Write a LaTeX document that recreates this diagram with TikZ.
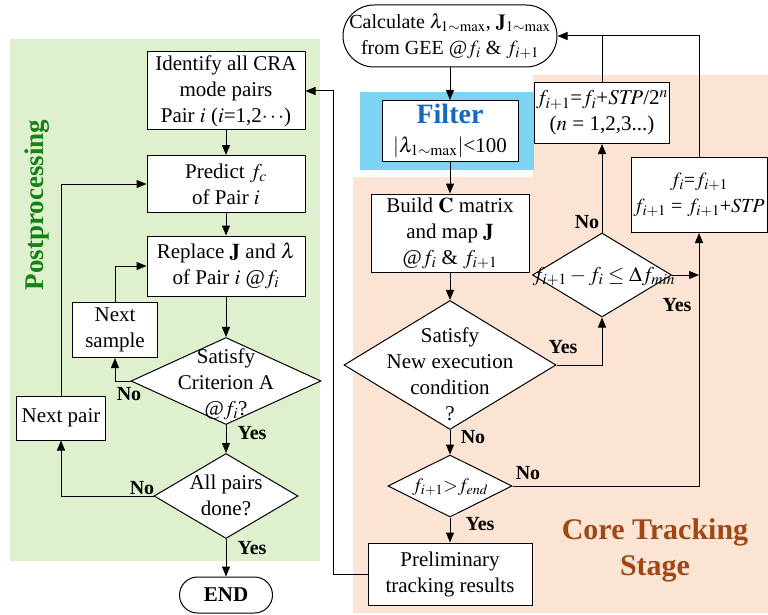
\documentclass[tikz,border=0pt]{standalone}
\usepackage{mathptmx}
\usepackage{fontspec}
\setmainfont{Liberation Serif}
\usetikzlibrary{shapes.geometric,arrows.meta}

\definecolor{postbg}{RGB}{223,240,207}
\definecolor{corebg}{RGB}{252,228,212}
\definecolor{filtbg}{RGB}{125,211,244}
\definecolor{posttxt}{RGB}{20,130,20}
\definecolor{coretxt}{RGB}{158,72,22}
\definecolor{filttxt}{RGB}{22,104,190}

% text of a diamond, kept out of the shape size
\newcommand{\dtxt}[2][0pt]{\makebox[0pt]{\smash{\raisebox{\dimexpr-0.3em-#1\relax}{\begin{tabular}{@{}c@{}}#2\end{tabular}}}}}

\begin{document}
\begin{tikzpicture}[x=1pt,y=-1pt,line width=1pt,>={Triangle[length=10pt,width=8pt]},
	box/.style={draw,fill=white,align=center,inner sep=2pt,font=\fontsize{21}{26}\selectfont},
	dia/.style={draw,fill=white,shape=diamond,inner sep=0pt,font=\fontsize{21}{26}\selectfont},
	term/.style={box,rounded corners=#1},
	lbl/.style={font=\bfseries\fontsize{20}{24}\selectfont,inner sep=0pt}]
	\useasboundingbox (0,0) rectangle (768,615);
	% backgrounds
	\fill[postbg] (10,39) rectangle (320,561);
	\fill[corebg] (353,177) -- (533,177) -- (533,75) -- (768,75) -- (768,613) -- (353,613) -- cycle;
	\fill[filtbg] (360,92) rectangle (534,170);
	\node[rotate=90,text=posttxt,font=\bfseries\fontsize{27}{30}\selectfont] (post) at (37,205) {Postprocessing};
	\node[align=center,text=coretxt,font=\bfseries\fontsize{30}{36}\selectfont] (core) at (655,550) {Core Tracking\\Stage};

	% core tracking stage
	\node[term=31pt,minimum width=214pt,minimum height=62pt,font=\fontsize{20}{26}\selectfont] (calc) at (450,36) {Calculate $\lambda_{1\sim\max}$, $\mathbf{J}_{1\sim\max}$\\from GEE @$f_i$ \& $f_{i+1}$};
	\node[box,minimum width=136pt,minimum height=61pt] (filt) at (450,131) {{\color{filttxt}\bfseries\fontsize{28}{30}\selectfont Filter}\\[3pt]$|\lambda_{1\sim\max}|$<100};
	\node[box,minimum width=158pt,minimum height=78pt] (build) at (450,233) {Build $\mathbf{C}$ matrix\\and map $\mathbf{J}$\\@$f_i$ \& $f_{i+1}$};
	\node[dia,minimum width=212pt,minimum height=129pt] (satn) at (450,365) {\dtxt[10pt]{Satisfy\\New execution\\condition\\?}};
	\node[dia,minimum width=124pt,minimum height=62pt,font=\fontsize{19}{22}\selectfont] (fend) at (450,486) {\dtxt{$f_{i+1}{>}f_{\mathit{end}}$}};
	\node[box,minimum width=164pt,minimum height=62pt] (prel) at (450,574) {Preliminary\\tracking results};
	\node[dia,minimum width=139pt,minimum height=84pt] (fdiff) at (602,275) {\dtxt{\hspace*{4pt}$f_{i+1}-f_i\leq\Delta f_{\mathit{min}}$}};
	\node[box,minimum width=123pt,minimum height=61pt] (stp) at (602,113) {$f_{i+1}$=$f_i$+$\mathit{STP}$/2$^n$\\($n$ = 1,2,3...)};
	\node[box,minimum width=136pt,minimum height=75pt,font=\fontsize{20}{26}\selectfont] (fupd) at (699,195) {$f_i$=$f_{i+1}$\\$f_{i+1}$ = $f_{i+1}$+$\mathit{STP}$};

	% postprocessing
	\node[box,minimum width=158pt,minimum height=78pt] (ident) at (226,91) {Identify all CRA\\mode pairs\\Pair $i$ ($i$=1,2$\cdots$)};
	\node[box,minimum width=158pt,minimum height=57pt] (pred) at (226,184) {Predict $f_c$\\of Pair $i$};
	\node[box,minimum width=158pt,minimum height=60pt] (repl) at (226,266) {Replace $\mathbf{J}$ and $\lambda$\\of Pair $i$ @$f_i$};
	\node[dia,minimum width=190pt,minimum height=87pt] (crit) at (226,381) {\dtxt[2pt]{Satisfy\\Criterion A\\@$f_i$?}};
	\node[box,minimum width=85pt,minimum height=55pt] (nsamp) at (115,330) {Next\\sample};
	\node[box,minimum width=89pt,minimum height=44pt] (npair) at (61,418) {Next pair};
	\node[dia,minimum width=144pt,minimum height=85pt] (allp) at (226,496) {\dtxt{All pairs\\done?}};
	\node[term=18pt,minimum width=93pt,minimum height=36pt,font=\bfseries\fontsize{21}{25}\selectfont] (end) at (226,595) {END};

	% connectors, right side
	\draw[->] (calc) -- (filt);
	\draw[->] (filt) -- (build);
	\draw[->] (build) -- (satn);
	\draw[->] (satn) -- (fend);
	\draw[->] (satn.east) -| (fdiff.south);
	\draw[->] (fdiff.north) -- (stp.south);
	\coordinate (top) at (stp.north |- calc.east);
	\draw[->] (stp.north) |- (calc.east);
	\draw (fupd.north) |- (top);
	\draw[->] (fdiff.east) -- (fdiff.east -| fupd.south);
	\draw[->] (fend.east) -| (fupd.south);
	\draw[->] (fend) -- (prel);
	\coordinate (back) at (333,91);
	\draw[->] (prel.west) -| (back) -- (ident.east);

	% connectors, left side
	\draw[->] (ident) -- (pred);
	\draw[->] (pred) -- (repl);
	\draw[->] (repl) -- (crit);
	\draw[->] (crit.west) -| (nsamp.south);
	\draw[->] (nsamp.north) |- (repl.west);
	\draw[->] (crit) -- (allp);
	\draw[->] (allp.west) -| (npair.south);
	\draw[->] (npair.north) |- (pred.west);
	\draw[->] (allp) -- (end);

	% yes / no
	\node[lbl] (n1) at (129,394) {No};
	\node[lbl] (y1) at (252,433) {Yes};
	\node[lbl] (n2) at (142,488) {No};
	\node[lbl] (y2) at (252,548) {Yes};
	\node[lbl] (y3) at (563,347) {Yes};
	\node[lbl] (n3) at (587,222) {No};
	\node[lbl] (y4) at (677,305) {Yes};
	\node[lbl] (n4) at (473,437) {No};
	\node[lbl] (n5) at (528,473) {No};
	\node[lbl] (y5) at (480,524) {Yes};
\end{tikzpicture}
\end{document}
